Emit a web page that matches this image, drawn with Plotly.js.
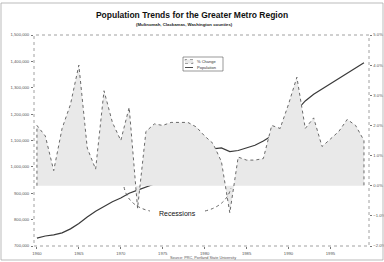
<!DOCTYPE html>
<html><head><meta charset="utf-8">
<script src="https://cdn.plot.ly/plotly-3.0.1.min.js"></script>
<style>html,body{margin:0;padding:0;background:#fff}#c{width:384px;height:262px}</style>
</head><body><div id="c"></div>
<script>
var years = [];
for (var y = 1960; y <= 1999; y++) years.push(y);
var population = [730000,738000,742000,750000,765000,785000,810000,832000,850000,868000,
  882000,900000,912000,925000,935000,945000,965000,990000,1015000,1040000,
  1055000,1068000,1072000,1058000,1062000,1072000,1082000,1098000,1118000,1145000,
  1180000,1215000,1250000,1275000,1295000,1315000,1335000,1355000,1375000,1395000];
var pctChange = [2.0,1.65,0.5,1.9,2.7,4.0,1.25,0.55,3.15,2.1,
  1.5,2.6,-0.75,1.8,2.05,2.0,2.1,2.1,2.1,1.95,
  1.65,1.4,0.8,-0.9,0.95,0.85,0.85,0.9,2.0,1.9,
  2.7,3.6,1.9,2.25,1.3,1.55,1.8,2.2,2.0,1.5];
var xTickYears = [1960,1965,1970,1975,1980,1985,1990,1995];
var seriesNames = ['% Change', 'Population'];

var L=34, R=369, T=35, B=246;
function px(x){return (x-L)/(R-L);}
function py(y){return (B-y)/(B-T);}

var areaX = [years[0]].concat(years, [years[years.length-1]]);
var areaY = [0].concat(pctChange, [0]);

var traces = [
  {x: areaX, y: areaY, yaxis: 'y2', type: 'scatter', mode: 'lines', fill: 'toself',
   fillcolor: '#e9e9e9', line: {color: '#6a6a6a', width: 1, dash: 'dot'},
   name: seriesNames[0], hoverinfo: 'skip'},
  {x: years, y: population, type: 'scatter', mode: 'lines',
   line: {color: '#3a3a3a', width: 1.2}, name: seriesNames[1]}
];

var fam = 'Liberation Sans, Arial, sans-serif';
var tickFont = {family: fam, size: 4.2, color: '#555'};
var layout = {
  width: 384, height: 262,
  margin: {l: L, r: 384-R, t: T, b: 262-B, pad: 0},
  paper_bgcolor: '#fff', plot_bgcolor: '#fff',
  showlegend: false,
  title: {text: 'Population Trends for the Greater Metro Region',
    font: {family: fam, size: 8.5, color: '#111', weight: 'bold'},
    x: 0.5, xref: 'container', y: 1-15/262, yref: 'container', yanchor: 'middle'},
  xaxis: {range: [1959.65, 1999.6], tickmode: 'array', tickvals: xTickYears,
    ticktext: xTickYears.map(String), tickfont: tickFont,
    showgrid: false, zeroline: false, showline: false,
    ticks: 'outside', ticklen: 1.5, tickcolor: '#777', ticklabelstandoff: 1},
  yaxis: {range: [700000, 1500000], dtick: 100000, tickformat: ',d', tickfont: tickFont,
    showgrid: false, zeroline: false, showline: false,
    ticks: 'outside', ticklen: 2, tickcolor: '#777', ticklabelstandoff: 1},
  yaxis2: {range: [-2, 5], dtick: 1, tickformat: '.1f', ticksuffix: '%', overlaying: 'y', side: 'right',
    tickfont: tickFont, showgrid: false, zeroline: false, showline: false,
    ticks: 'outside', ticklen: 1.5, tickcolor: '#777', ticklabelstandoff: 1},
  shapes: [
    {type: 'rect', xref: 'paper', yref: 'paper', x0: 0, x1: 1, y0: 0, y1: 1,
     line: {color: '#888', width: 0.8, dash: 'dot'}},
    {type: 'rect', xref: 'paper', yref: 'paper', x0: px(1), x1: px(383), y0: py(260), y1: py(3),
     line: {color: '#aaa', width: 0.8}},
    {type: 'path', xref: 'paper', yref: 'paper',
     path: 'M ' + px(124) + ' ' + py(187) + ' Q ' + px(128) + ' ' + py(206) + ' ' + px(150) + ' ' + py(211),
     line: {color: '#555', width: 0.9, dash: 'dot'}},
    {type: 'path', xref: 'paper', yref: 'paper',
     path: 'M ' + px(205) + ' ' + py(211) + ' Q ' + px(226) + ' ' + py(206) + ' ' + px(231) + ' ' + py(188),
     line: {color: '#555', width: 0.9, dash: 'dot'}},
    {type: 'rect', xref: 'paper', yref: 'paper', x0: px(183), x1: px(223), y0: py(71), y1: py(57),
     fillcolor: '#fff', line: {color: '#555', width: 0.6}},
    {type: 'rect', xref: 'paper', yref: 'paper', x0: px(185), x1: px(193), y0: py(63.5), y1: py(59.5),
     fillcolor: '#e9e9e9', line: {color: '#6a6a6a', width: 0.6, dash: 'dot'}},
    {type: 'line', xref: 'paper', yref: 'paper', x0: px(185), x1: px(193), y0: py(67.5), y1: py(67.5),
     line: {color: '#3a3a3a', width: 0.9}}
  ],
  annotations: [
    {text: '<b>(Multnomah, Clackamas, Washington counties)</b>', xref: 'paper', yref: 'paper',
     x: px(184), y: py(24), showarrow: false, xanchor: 'center', yanchor: 'middle',
     font: {family: fam, size: 4.3, color: '#222'}},
    {text: seriesNames[0], xref: 'paper', yref: 'paper', x: px(195), y: py(61.5), showarrow: false,
     xanchor: 'left', yanchor: 'middle', font: {family: fam, size: 4, color: '#333'}},
    {text: seriesNames[1], xref: 'paper', yref: 'paper', x: px(195), y: py(67.5), showarrow: false,
     xanchor: 'left', yanchor: 'middle', font: {family: fam, size: 4, color: '#333'}},
    {text: 'Recessions', xref: 'paper', yref: 'paper', x: px(177), y: py(213), showarrow: false,
     xanchor: 'center', yanchor: 'middle',
     font: {family: fam, size: 7, color: '#111'}},
    {text: 'Source: PRC, Portland State University', xref: 'paper', yref: 'paper',
     x: px(203), y: py(257.5), showarrow: false, xanchor: 'center', yanchor: 'middle',
     font: {family: fam, size: 3.8, color: '#555'}}
  ]
};
Plotly.newPlot('c', traces, layout, {displayModeBar: false, staticPlot: true});
</script></body></html>
